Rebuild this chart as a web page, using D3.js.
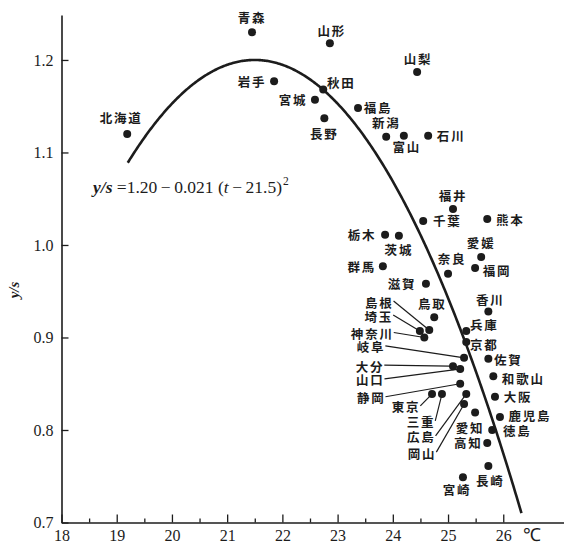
<!DOCTYPE html>
<html>
<head>
<meta charset="utf-8">
<script src="https://cdnjs.cloudflare.com/ajax/libs/d3/7.8.5/d3.min.js"></script>
<style>
  body { margin: 0; background: #fff; }
  svg { display: block; }
  .tick text { font-family: "Liberation Serif", serif; font-size: 16px; fill: #1c1c1c; }
  .domain, .tick line { stroke: #1c1c1c; }
  .prefLabel { font-family: "Noto Sans CJK JP", sans-serif; font-size: 12.5px; font-weight: 700; letter-spacing: 1.8px; fill: #1c1c1c; }
</style>
</head>
<body>
<div id="chart"></div>
<script>
// DATA: prefecture, mean temperature (t, deg C), ratio y/s
var prefs = ["北海道", "青森", "山形", "山梨", "岩手", "秋田", "宮城", "長野", "福島", "新潟",
    "富山", "石川", "福井", "千葉", "熊本", "栃木", "茨城", "群馬", "愛媛", "福岡",
    "奈良", "滋賀", "香川", "鳥取", "島根", "埼玉", "神奈川", "兵庫", "京都", "岐阜",
    "佐賀", "大分", "山口", "静岡", "和歌山", "大阪", "東京", "三重", "広島", "岡山",
    "愛知", "鹿児島", "徳島", "高知", "長崎", "宮崎"];
var temps = [19.19, 21.45, 22.86, 24.44, 21.85, 22.74, 22.59, 22.76, 23.37, 23.88,
    24.20, 24.64, 25.09, 24.55, 25.71, 23.86, 24.11, 23.82, 25.60, 25.49,
    25.00, 24.60, 25.73, 24.75, 24.66, 24.49, 24.57, 25.33, 25.33, 25.29,
    25.73, 25.09, 25.22, 25.22, 25.82, 25.85, 24.71, 24.89, 25.33, 25.29,
    25.49, 25.94, 25.80, 25.71, 25.73, 25.27];
var ratios = [1.120, 1.230, 1.218, 1.187, 1.177, 1.168, 1.157, 1.137, 1.148, 1.117,
    1.118, 1.118, 1.039, 1.026, 1.028, 1.011, 1.010, 0.977, 0.987, 0.975,
    0.969, 0.958, 0.928, 0.922, 0.908, 0.907, 0.900, 0.907, 0.895, 0.878,
    0.877, 0.869, 0.866, 0.850, 0.858, 0.836, 0.839, 0.839, 0.839, 0.828,
    0.819, 0.814, 0.800, 0.786, 0.761, 0.749];

var xTicks = [18, 19, 20, 21, 22, 23, 24, 25, 26];
var xMinorTicks = [18.5, 19.5, 20.5, 21.5, 22.5, 23.5, 24.5, 25.5];
var yTicks = [0.7, 0.8, 0.9, 1.0, 1.1, 1.2];

// fitted curve y/s = a - b (t - t0)^2
var fitA = 1.20, fitB = 0.021, fitT0 = 21.5;
var fitRange = [19.2, 26.33];

// label placement (offset from dot, px); leader = true draws a line to the dot
var labelPos = {
    "北海道": [-6, -16], "青森": [0, -15], "山形": [2, -13], "山梨": [1, -13],
    "岩手": [-22, 0], "秋田": [18, -7], "宮城": [-22, 0], "長野": [0, 15],
    "福島": [20, -1], "新潟": [0, -14], "富山": [3, 11], "石川": [23, 0],
    "福井": [0, -13], "千葉": [24, 0], "熊本": [23, 0], "栃木": [-23, 0],
    "茨城": [0, 14], "群馬": [-21, 0], "愛媛": [0, -15], "福岡": [22, 2],
    "奈良": [4, -15], "滋賀": [-24, 0], "香川": [2, -12], "鳥取": [-2, -14],
    "島根": [-50, -28, true], "埼玉": [-41, -15, true], "神奈川": [-52, -4, true],
    "兵庫": [18, -7], "京都": [18, 2], "岐阜": [-93, -11, true], "佐賀": [20, 1],
    "大分": [-83, 0, true], "山口": [-90, 11, true], "静岡": [-89, 14, true],
    "和歌山": [30, 2], "大阪": [23, 0], "東京": [-26, 13, true], "三重": [-21, 28, true],
    "広島": [-45, 43, true], "岡山": [-42, 49, true], "愛知": [-5, 15], "鹿児島": [30, -2],
    "徳島": [25, 1], "高知": [-19, 0], "長崎": [2, 14], "宮崎": [-6, 12]
};

makePlot();

function makePlot() {
    // STEP 1: SET UP THE CANVAS
    var svgWidth = 564;
    var svgHeight = 546;
    var margin = { top: 15, right: 0, bottom: 23.5, left: 61.5 };
    var ink = "#1c1c1c";
    var serif = "'Liberation Serif', 'Times New Roman', serif";

    var svg = d3.select("#chart")
        .append("svg")
        .attr("width", svgWidth)
        .attr("height", svgHeight);

    // STEP 2: SCALES (axes run a bit past the last tick)
    var xScale = d3.scaleLinear()
        .domain([18, 27.1])
        .range([margin.left, svgWidth - margin.right]);

    var yScale = d3.scaleLinear()
        .domain([0.7, 1.2486])
        .range([svgHeight - margin.bottom, margin.top]);

    // STEP 3: AXES
    svg.append("g")
        .attr("transform", `translate(0, ${svgHeight - margin.bottom})`)
        .call(d3.axisBottom(xScale).tickValues(xTicks).tickFormat(d3.format("d"))
            .tickSize(-8).tickSizeOuter(0).tickPadding(7))
        .attr("font-family", serif)
        .attr("font-size", 16);

    svg.append("g")
        .attr("transform", `translate(0, ${svgHeight - margin.bottom})`)
        .call(d3.axisBottom(xScale).tickValues(xMinorTicks).tickFormat("")
            .tickSize(-4).tickSizeOuter(0))
        .select(".domain").remove();

    svg.append("g")
        .attr("transform", `translate(${margin.left}, 0)`)
        .call(d3.axisLeft(yScale).tickValues(yTicks).tickFormat(d3.format(".1f"))
            .tickSize(-7).tickSizeOuter(0).tickPadding(8))
        .attr("font-family", serif)
        .attr("font-size", 16);

    svg.selectAll(".domain").attr("stroke-width", 1.6);
    svg.selectAll(".tick line").attr("stroke-width", 1.3);

    svg.append("text")
        .attr("x", 532)
        .attr("y", 541)
        .attr("text-anchor", "middle")
        .attr("font-family", serif)
        .attr("font-size", 18)
        .attr("fill", ink)
        .text("℃");

    svg.append("text")
        .attr("transform", "translate(19, 290) rotate(-90)")
        .attr("text-anchor", "middle")
        .attr("font-family", serif)
        .attr("font-size", 15)
        .attr("font-style", "italic")
        .attr("font-weight", "bold")
        .attr("fill", ink)
        .text("y/s");

    // STEP 4: FITTED CURVE
    var curveT = d3.range(fitRange[0], fitRange[1], 0.02).concat([fitRange[1]]);
    var line = d3.line()
        .x(t => xScale(t))
        .y(t => yScale(fitA - fitB * Math.pow(t - fitT0, 2)));

    svg.append("path")
        .datum(curveT)
        .attr("d", line)
        .attr("fill", "none")
        .attr("stroke", ink)
        .attr("stroke-width", 2.6);

    // equation
    var eq = svg.append("text")
        .attr("x", 93)
        .attr("y", 193)
        .attr("font-family", serif)
        .attr("font-size", 17.5)
        .attr("fill", ink);
    eq.append("tspan").attr("font-style", "italic").attr("font-weight", "bold").text("y/s");
    eq.append("tspan").text(" =1.20\u2009\u2212\u20090.021 (");
    eq.append("tspan").attr("font-style", "italic").text("t");
    eq.append("tspan").text("\u2009\u2212\u200921.5)");
    eq.append("tspan").attr("font-size", 11.5).attr("dy", -8).attr("dx", 1).text("2");

    // STEP 5: POINTS
    var data = prefs.map((p, i) => ({ name: p, t: temps[i], v: ratios[i], pos: labelPos[p] }));

    var labels = svg.selectAll(".prefLabel")
        .data(data)
        .enter()
        .append("text")
        .attr("class", "prefLabel")
        .attr("x", d => xScale(d.t) + d.pos[0])
        .attr("y", d => yScale(d.v) + d.pos[1])
        .attr("text-anchor", "middle")
        .attr("dominant-baseline", "central")
        .text(d => d.name);

    // leader lines from label's right edge to the dot
    labels.each(function(d) {
        if (!d.pos[2]) return;
        var w = this.getComputedTextLength();
        var x1 = xScale(d.t) + d.pos[0] + w / 2;
        var y1 = yScale(d.v) + d.pos[1] - 1;
        var x2 = xScale(d.t), y2 = yScale(d.v);
        var len = Math.hypot(x2 - x1, y2 - y1);
        svg.append("line")
            .attr("x1", x1).attr("y1", y1)
            .attr("x2", x2 - (x2 - x1) / len * 3)
            .attr("y2", y2 - (y2 - y1) / len * 3)
            .attr("stroke", ink)
            .attr("stroke-width", 1.2);
    });

    svg.selectAll(".stateCircle")
        .data(data)
        .enter()
        .append("circle")
        .attr("cx", d => xScale(d.t))
        .attr("cy", d => yScale(d.v))
        .attr("r", 4)
        .attr("fill", ink);
}
</script>
</body>
</html>
